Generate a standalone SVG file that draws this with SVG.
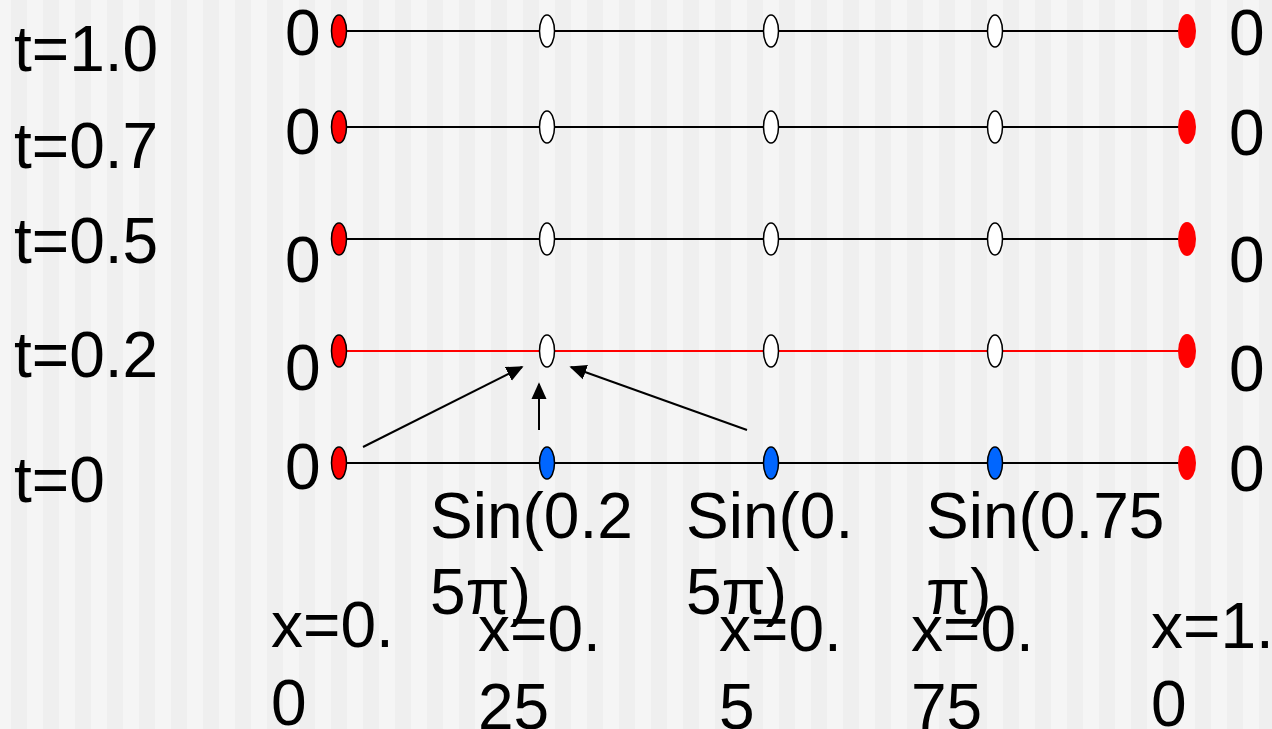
<svg xmlns="http://www.w3.org/2000/svg" width="1272" height="729" viewBox="0 0 1272 729">
<defs>
<pattern id="stripes" patternUnits="userSpaceOnUse" x="11" y="0" width="32" height="729">
<rect x="0" y="0" width="16" height="729" fill="#efefef"/>
<rect x="16" y="0" width="16" height="729" fill="#f5f5f5"/>
</pattern>
<marker id="arr" viewBox="0 0 10 10" refX="9" refY="5" markerWidth="17" markerHeight="17" markerUnits="userSpaceOnUse" orient="auto">
<path d="M0,0.5 L10,5 L0,9.5 Z" fill="#000"/>
</marker>
</defs>
<style>
text{font-family:"Liberation Sans",Arial,sans-serif;font-size:64px;fill:#000}
.ln{stroke:#000;stroke-width:2}
.lr{stroke:#ff0000;stroke-width:2}
.redL{fill:#ff0000;stroke:#000;stroke-width:1.5}
.redR{fill:#ff0000}
.wht{fill:#ffffff;stroke:#000;stroke-width:1.5}
.blu{fill:#0066ff;stroke:#000;stroke-width:1.5}
.arw{stroke:#000;stroke-width:2;fill:none;marker-end:url(#arr)}
</style>
<rect x="0" y="0" width="1272" height="729" fill="url(#stripes)"/>
<g id="time-labels">
<text x="14" y="71">t=1.0</text>
<text x="14" y="168">t=0.7</text>
<text x="14" y="263">t=0.5</text>
<text x="14" y="377">t=0.2</text>
<text x="14" y="502">t=0</text>
</g>
<g id="connectors">
<line class="ln" x1="347" y1="31" x2="1180" y2="31"/>
<line class="ln" x1="347" y1="127" x2="1180" y2="127"/>
<line class="ln" x1="347" y1="239" x2="1180" y2="239"/>
<line class="lr" x1="347" y1="351" x2="1180" y2="351"/>
<line class="ln" x1="347" y1="463" x2="1180" y2="463"/>
<line class="arw" x1="363" y1="447" x2="522" y2="367"/>
<line class="arw" x1="539" y1="430" x2="539" y2="384"/>
<line class="arw" x1="747" y1="430" x2="571" y2="367"/>
</g>
<g id="row-t1">
<text x="285" y="55">0</text>
<ellipse class="redL" cx="339" cy="31" rx="7.5" ry="16"/>
<ellipse class="wht" cx="547" cy="31" rx="7.5" ry="16"/>
<ellipse class="wht" cx="771" cy="31" rx="7.5" ry="16"/>
<ellipse class="wht" cx="995" cy="31" rx="7.5" ry="16"/>
<ellipse class="redR" cx="1187" cy="31" rx="9" ry="17"/>
<text x="1229" y="55">0</text>
</g>
<g id="row-t07">
<text x="285" y="154">0</text>
<ellipse class="redL" cx="339" cy="127" rx="7.5" ry="16"/>
<ellipse class="wht" cx="547" cy="127" rx="7.5" ry="16"/>
<ellipse class="wht" cx="771" cy="127" rx="7.5" ry="16"/>
<ellipse class="wht" cx="995" cy="127" rx="7.5" ry="16"/>
<ellipse class="redR" cx="1187" cy="127" rx="9" ry="17"/>
<text x="1229" y="155">0</text>
</g>
<g id="row-t05">
<text x="285" y="282">0</text>
<ellipse class="redL" cx="339" cy="239" rx="7.5" ry="16"/>
<ellipse class="wht" cx="547" cy="239" rx="7.5" ry="16"/>
<ellipse class="wht" cx="771" cy="239" rx="7.5" ry="16"/>
<ellipse class="wht" cx="995" cy="239" rx="7.5" ry="16"/>
<ellipse class="redR" cx="1187" cy="239" rx="9" ry="17"/>
<text x="1229" y="282">0</text>
</g>
<g id="row-t02">
<text x="285" y="390">0</text>
<ellipse class="redL" cx="339" cy="351" rx="7.5" ry="16"/>
<ellipse class="wht" cx="547" cy="351" rx="7.5" ry="16"/>
<ellipse class="wht" cx="771" cy="351" rx="7.5" ry="16"/>
<ellipse class="wht" cx="995" cy="351" rx="7.5" ry="16"/>
<ellipse class="redR" cx="1187" cy="351" rx="9" ry="17"/>
<text x="1229" y="391">0</text>
</g>
<g id="row-t0">
<text x="285" y="489">0</text>
<ellipse class="redL" cx="339" cy="463" rx="7.5" ry="16"/>
<ellipse class="blu" cx="547" cy="463" rx="7.5" ry="16"/>
<ellipse class="blu" cx="771" cy="463" rx="7.5" ry="16"/>
<ellipse class="blu" cx="995" cy="463" rx="7.5" ry="16"/>
<ellipse class="redR" cx="1187" cy="463" rx="9" ry="17"/>
<text x="1229" y="491">0</text>
</g>
<g id="sin-labels">
<text x="430" y="538">Sin(0.2<tspan x="430" y="614">5π)</tspan></text>
<text x="686" y="538">Sin(0.<tspan x="686" y="614">5π)</tspan></text>
<text x="926" y="538">Sin(0.75<tspan x="926" y="614">π)</tspan></text>
</g>
<g id="x-labels">
<text x="271" y="647">x=0.<tspan x="271" y="725">0</tspan></text>
<text x="478" y="651">x=0.<tspan x="478" y="729">25</tspan></text>
<text x="719" y="651">x=0.<tspan x="719" y="729">5</tspan></text>
<text x="911" y="651">x=0.<tspan x="911" y="729">75</tspan></text>
<text x="1151" y="648">x=1.<tspan x="1151" y="726">0</tspan></text>
</g>
</svg>
